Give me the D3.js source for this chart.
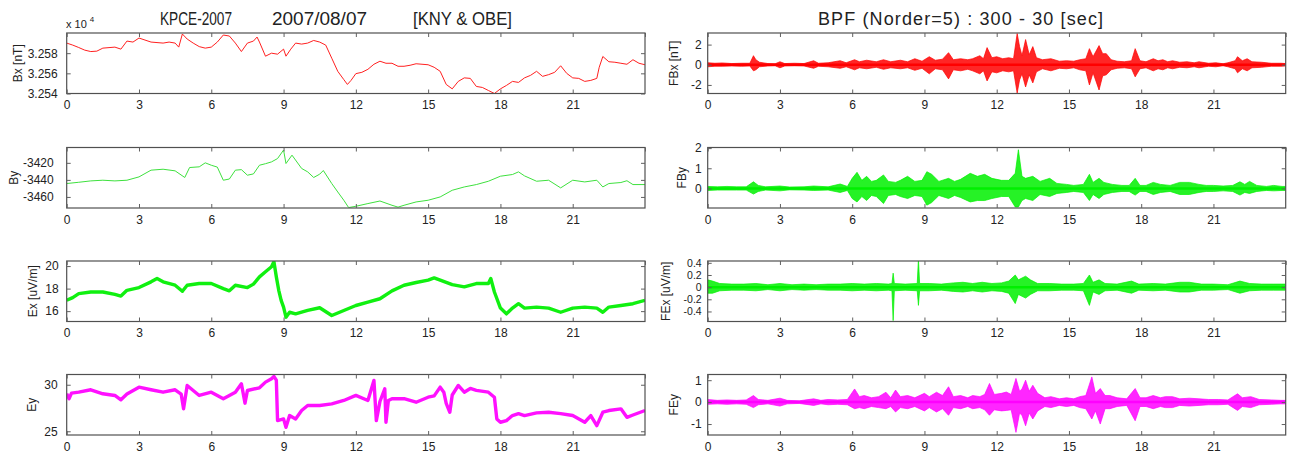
<!DOCTYPE html>
<html><head><meta charset="utf-8">
<script src="https://cdn.jsdelivr.net/npm/d3@7/dist/d3.min.js"></script>
<style>
body{margin:0;background:#fff;}
text{font-family:"Liberation Sans",Arial,sans-serif;fill:#222;}
</style></head>
<body><svg id="c" width="1293" height="457"></svg>
<script>
// ---------- data (hours, value) ----------
const hourTicks = [0,3,6,9,12,15,18,21];
const titleLeft = ["KPCE-2007","2007/08/07","[KNY & OBE]"];
const titleRight = "BPF (Norder=5) : 300 - 30 [sec]";

const bx = [[0,32590],[0.25,32588],[0.5,32585.6],[0.75,32583],[1,32581.6],[1.25,32582],[1.5,32585],[2,32586],[2.25,32584],[2.5,32592],[2.75,32591],[3,32595],[3.25,32593],[3.5,32591],[4,32590],[4.25,32591],[4.5,32590],[4.65,32586],[4.8,32599],[5,32594],[5.25,32590],[5.5,32586.5],[5.75,32585],[6,32586],[6.25,32591],[6.5,32598],[6.75,32597],[7,32590],[7.25,32581.6],[7.5,32590],[7.75,32592],[7.9,32596],[8,32591],[8.25,32577],[8.5,32580],[8.75,32579],[9,32584],[9.1,32577],[9.3,32584],[9.5,32590],[9.75,32589],[10,32590],[10.25,32592.6],[10.5,32591],[10.75,32588],[11,32575],[11.25,32562],[11.5,32553.8],[11.65,32549],[11.8,32553],[12,32559.7],[12.25,32561],[12.5,32564],[12.75,32569],[13,32572],[13.25,32570],[13.5,32570],[13.75,32567],[14,32567],[14.25,32568],[14.5,32569.5],[15,32568.5],[15.25,32566],[15.5,32562],[15.75,32549],[16,32544.6],[16.25,32552],[16.5,32555.5],[16.75,32555],[17,32547],[17.25,32546],[17.5,32543],[17.75,32540],[18,32544.6],[18.25,32548],[18.5,32552],[18.75,32551],[19,32555.5],[19.25,32558],[19.5,32562],[19.75,32557],[20,32558.7],[20.25,32561],[20.5,32567.5],[20.75,32560],[21,32555.5],[21.25,32555],[21.5,32552],[21.75,32553],[22,32555],[22.1,32566],[22.25,32576.7],[22.5,32571.5],[22.75,32571],[23,32570],[23.25,32569],[23.5,32573.5],[23.75,32570],[24,32568.5]];

const by = [[0,-3444.3],[0.5,-3442.8],[1,-3441.2],[1.5,-3440.4],[2,-3441.2],[2.5,-3440.4],[3,-3436.5],[3.5,-3428.6],[4,-3427.5],[4.5,-3429.4],[4.9,-3437.2],[5.1,-3425.5],[5.5,-3424.7],[5.75,-3420],[6,-3422.8],[6.25,-3425],[6.5,-3440.4],[6.75,-3439],[7,-3428.6],[7.25,-3428],[7.5,-3434.5],[7.75,-3433],[8,-3422.8],[8.25,-3421],[8.5,-3418.9],[8.75,-3415],[9,-3405],[9.1,-3420.8],[9.35,-3411],[9.75,-3426.6],[10,-3430.6],[10.25,-3437.2],[10.5,-3433.3],[10.65,-3429],[11,-3444.3],[11.25,-3454.2],[11.5,-3463.9],[11.7,-3472.5],[12,-3471],[12.5,-3467.8],[13,-3464.8],[13.5,-3469.8],[13.75,-3472],[14,-3469.8],[14.5,-3465.9],[15,-3463.9],[15.5,-3460],[16,-3452.2],[16.5,-3448.3],[17,-3445.5],[17.5,-3441.6],[18,-3435.7],[18.5,-3433.7],[18.75,-3430.6],[19,-3435.3],[19.5,-3441.6],[20,-3440.4],[20.5,-3449.4],[21,-3440.4],[21.5,-3442.4],[22,-3440.4],[22.25,-3448.3],[22.5,-3444.3],[23,-3443.1],[23.25,-3441],[23.5,-3445.5],[24,-3445.5]];

const ex = [[0,16.96],[0.25,17.2],[0.5,17.55],[1,17.7],[1.5,17.7],[2,17.49],[2.25,17.34],[2.5,17.85],[3,18.09],[3.5,18.6],[3.75,18.9],[4,18.6],[4.5,18.3],[4.8,17.76],[5,18.3],[5.5,18.45],[6,18.45],[6.5,18.0],[6.75,17.8],[7,18.3],[7.5,18.09],[7.75,18.4],[8,19.04],[8.25,19.49],[8.5,19.94],[8.6,20.39],[8.7,19.04],[8.8,17.85],[8.9,16.96],[9,16.36],[9.1,15.46],[9.25,15.9],[9.5,15.76],[10,16.06],[10.5,16.3],[11,15.61],[11.5,16.06],[12,16.5],[12.5,16.8],[13,17.1],[13.5,17.8],[14,18.3],[14.5,18.54],[15,18.75],[15.25,18.95],[15.5,18.75],[16,18.36],[16.5,18.15],[17,18.45],[17.5,18.45],[17.6,18.9],[17.75,17.7],[18,16.27],[18.25,15.76],[18.5,16.27],[18.75,16.66],[19,16.27],[19.5,16.36],[20,16.27],[20.5,15.9],[21,16.27],[21.5,16.36],[22,16.27],[22.25,15.9],[22.5,16.36],[23,16.5],[23.5,16.66],[24,16.96]];

const ey = [[0,29.03],[0.1,28.5],[0.2,29.1],[0.5,29.2],[1,29.46],[1.5,29.03],[2,28.85],[2.25,28.38],[2.5,29.0],[3,29.74],[3.5,29.46],[4,29.2],[4.5,29.46],[4.75,29.0],[4.85,27.41],[5,29.92],[5.5,28.85],[6,29.2],[6.5,28.49],[7,29.2],[7.25,30.1],[7.4,28.02],[7.5,29.38],[8,29.67],[8.25,30.28],[8.5,30.65],[8.6,30.9],[8.7,30.5],[8.75,26.15],[9,26.33],[9.1,25.43],[9.25,26.69],[9.5,26.33],[9.75,27.23],[10,27.77],[10.5,27.77],[11,27.95],[11.5,28.31],[12,28.85],[12.5,28.31],[12.75,30.46],[12.85,26.15],[13,28.2],[13.2,29.57],[13.25,25.97],[13.35,28.3],[13.5,28.49],[14,28.5],[14.5,28.12],[15,28.66],[15.25,28.8],[15.5,29.74],[15.65,29.2],[15.75,28.0],[15.9,27.04],[16,28.9],[16.25,29.92],[16.5,29.2],[16.75,29.6],[17,29.4],[17.5,29.2],[17.75,28.66],[17.85,26.33],[18,25.97],[18.25,26.15],[18.5,26.69],[18.75,26.9],[19,26.69],[19.5,26.98],[20,27.05],[20.5,26.9],[21,26.69],[21.5,25.97],[21.75,26.69],[22,25.61],[22.25,27.05],[22.5,27.23],[23,27.41],[23.25,26.5],[23.5,26.75],[24,27.23]];

// band-pass filtered: [hour, upper envelope, lower envelope]
const fbx = [[0,0.2,-0.2],[0.3,0.15,-0.15],[0.6,0.18,-0.15],[1.0,0.12,-0.12],[1.4,0.15,-0.15],[1.75,0.15,-0.12],[1.9,0.9,-0.6],[2.0,0.5,-0.5],[2.15,0.25,-0.2],[2.5,0.12,-0.12],[2.8,0.1,-0.1],[3.0,0.3,-0.3],[3.2,0.12,-0.12],[3.6,0.15,-0.1],[4.0,0.12,-0.12],[4.4,0.4,-0.35],[4.6,0.15,-0.15],[5.0,0.2,-0.2],[5.5,0.4,-0.35],[5.75,0.2,-0.2],[6.1,0.5,-0.5],[6.3,0.3,-0.3],[6.6,0.45,-0.4],[7.0,0.3,-0.25],[7.3,0.5,-0.45],[7.6,0.3,-0.3],[8.0,0.45,-0.4],[8.3,0.3,-0.3],[8.6,0.6,-0.55],[8.9,0.35,-0.35],[9.2,0.8,-0.9],[9.45,0.45,-0.4],[9.75,0.55,-0.5],[10.0,1.2,-1.4],[10.2,0.5,-0.5],[10.5,0.6,-0.6],[10.8,0.5,-0.45],[11.0,0.6,-0.6],[11.3,0.9,-0.9],[11.45,0.6,-0.6],[11.6,1.7,-1.6],[11.8,0.7,-0.7],[12.0,0.8,-0.8],[12.25,0.6,-0.6],[12.5,0.7,-0.7],[12.7,0.6,-0.6],[12.85,3.1,-2.8],[12.95,1.8,-1.5],[13.05,0.9,-0.9],[13.2,2.5,-2.2],[13.35,1.0,-1.0],[13.5,1.8,-1.8],[13.65,0.7,-0.7],[13.9,0.5,-0.4],[14.25,0.6,-0.6],[14.6,0.35,-0.35],[14.9,0.4,-0.4],[15.2,0.35,-0.3],[15.45,0.5,-0.5],[15.7,0.6,-0.6],[15.85,1.6,-2.0],[16.0,0.8,-0.8],[16.25,1.9,-2.5],[16.4,1.1,-1.1],[16.55,1.1,-1.0],[16.75,0.5,-0.5],[17.0,0.35,-0.35],[17.3,0.3,-0.3],[17.6,0.4,-0.4],[17.75,1.6,-1.2],[17.95,0.4,-0.4],[18.2,0.3,-0.3],[18.5,0.6,-0.6],[18.7,0.4,-0.4],[18.9,0.5,-0.5],[19.1,0.3,-0.3],[19.3,0.4,-0.4],[19.6,0.25,-0.25],[19.9,0.3,-0.3],[20.2,0.2,-0.2],[20.4,0.3,-0.3],[20.8,0.15,-0.15],[21.1,0.2,-0.2],[21.4,0.1,-0.1],[21.6,0.2,-0.2],[21.9,0.4,-0.4],[22.0,0.8,-0.8],[22.2,0.4,-0.4],[22.4,0.6,-0.6],[22.6,0.3,-0.3],[23.0,0.25,-0.25],[23.4,0.15,-0.15],[23.8,0.15,-0.15],[24,0.12,-0.12]];

const fby = [[0,0.1,-0.1],[0.4,0.08,-0.08],[0.8,0.1,-0.08],[1.2,0.08,-0.08],[1.6,0.08,-0.08],[1.9,0.33,-0.28],[2.1,0.15,-0.15],[2.4,0.08,-0.08],[3.0,0.12,-0.12],[3.4,0.07,-0.07],[4.0,0.08,-0.08],[4.4,0.12,-0.1],[5.0,0.08,-0.08],[5.5,0.22,-0.2],[5.8,0.1,-0.1],[6.0,0.5,-0.5],[6.2,0.8,-0.67],[6.4,0.4,-0.4],[6.6,0.6,-0.6],[6.8,0.35,-0.35],[7.0,0.4,-0.4],[7.3,0.67,-0.75],[7.5,0.35,-0.35],[7.8,0.3,-0.3],[8.0,0.4,-0.4],[8.3,0.6,-0.5],[8.6,0.35,-0.35],[8.9,0.4,-0.4],[9.1,0.83,-0.83],[9.3,0.7,-0.7],[9.6,0.35,-0.35],[10.0,0.5,-0.5],[10.25,0.35,-0.35],[10.5,0.45,-0.45],[10.9,0.75,-0.67],[11.2,0.6,-0.6],[11.5,0.7,-0.6],[11.8,0.5,-0.5],[12.2,0.4,-0.4],[12.5,0.4,-0.4],[12.77,0.75,-0.92],[12.9,1.92,-0.92],[13.05,0.6,-0.6],[13.2,0.5,-0.5],[13.5,0.6,-0.6],[13.8,0.35,-0.3],[14.2,0.5,-0.4],[14.5,0.25,-0.25],[14.9,0.2,-0.2],[15.2,0.15,-0.15],[15.6,0.2,-0.2],[15.85,0.7,-0.6],[16.0,0.3,-0.3],[16.25,0.5,-0.5],[16.45,0.3,-0.3],[16.8,0.2,-0.2],[17.2,0.15,-0.15],[17.5,0.15,-0.15],[17.75,0.5,-0.33],[17.95,0.15,-0.15],[18.2,0.15,-0.15],[18.5,0.3,-0.3],[18.8,0.2,-0.2],[19.2,0.15,-0.15],[19.6,0.3,-0.3],[20.0,0.3,-0.3],[20.4,0.2,-0.2],[20.7,0.15,-0.15],[21.0,0.15,-0.15],[21.4,0.12,-0.12],[21.8,0.15,-0.15],[22.1,0.33,-0.33],[22.3,0.2,-0.2],[22.5,0.35,-0.25],[22.8,0.15,-0.15],[23.2,0.1,-0.1],[23.5,0.15,-0.12],[23.85,0.1,-0.1],[24,0.1,-0.1]];

const fex = [[0,0.12,-0.1],[0.2,0.1,-0.1],[0.5,0.06,-0.06],[1.0,0.05,-0.05],[1.5,0.05,-0.05],[2.0,0.06,-0.06],[2.5,0.04,-0.04],[3.0,0.06,-0.06],[3.5,0.04,-0.04],[4.0,0.05,-0.05],[4.5,0.04,-0.04],[5.0,0.05,-0.05],[5.5,0.05,-0.05],[6.0,0.06,-0.06],[6.5,0.05,-0.05],[7.0,0.06,-0.06],[7.5,0.05,-0.05],[7.65,0.06,-0.06],[7.7,0.23,-0.55],[7.75,0.06,-0.06],[8.2,0.05,-0.05],[8.7,0.06,-0.06],[8.75,0.46,-0.3],[8.8,0.06,-0.06],[9.2,0.06,-0.06],[9.7,0.05,-0.05],[10.2,0.07,-0.07],[10.6,0.08,-0.08],[11.0,0.06,-0.06],[11.4,0.08,-0.08],[11.8,0.06,-0.06],[12.2,0.07,-0.07],[12.5,0.1,-0.1],[12.77,0.2,-0.27],[12.9,0.12,-0.12],[13.2,0.18,-0.18],[13.4,0.12,-0.12],[13.7,0.06,-0.06],[14.2,0.06,-0.06],[14.7,0.05,-0.05],[15.2,0.05,-0.05],[15.6,0.06,-0.06],[15.85,0.2,-0.3],[16.0,0.08,-0.08],[16.25,0.12,-0.12],[16.5,0.06,-0.06],[17.0,0.05,-0.05],[17.6,0.1,-0.1],[17.9,0.05,-0.05],[18.5,0.06,-0.06],[19.0,0.05,-0.05],[19.6,0.08,-0.08],[20.0,0.08,-0.08],[20.5,0.05,-0.05],[21.0,0.05,-0.05],[21.6,0.04,-0.04],[22.1,0.1,-0.1],[22.5,0.06,-0.06],[23.0,0.05,-0.05],[23.5,0.05,-0.05],[24,0.05,-0.05]];

const fey = [[0,0.12,-0.1],[0.4,0.08,-0.08],[0.8,0.1,-0.1],[1.2,0.08,-0.08],[1.6,0.1,-0.1],[1.9,0.3,-0.25],[2.1,0.12,-0.12],[2.5,0.08,-0.08],[3.0,0.18,-0.18],[3.3,0.08,-0.08],[3.8,0.06,-0.06],[4.4,0.15,-0.15],[4.7,0.08,-0.08],[5.0,0.12,-0.12],[5.4,0.1,-0.1],[5.8,0.12,-0.12],[6.1,0.6,-0.3],[6.3,0.25,-0.25],[6.5,0.3,-0.3],[6.8,0.2,-0.2],[7.1,0.25,-0.25],[7.4,0.45,-0.3],[7.6,0.2,-0.2],[7.8,0.55,-0.45],[8.0,0.25,-0.25],[8.3,0.3,-0.3],[8.6,0.2,-0.2],[9.0,0.4,-0.4],[9.2,0.25,-0.25],[9.5,0.45,-0.45],[9.75,0.3,-0.3],[10.0,0.7,-0.6],[10.2,0.25,-0.25],[10.5,0.3,-0.3],[10.8,0.2,-0.2],[11.0,0.3,-0.3],[11.3,0.25,-0.25],[11.5,0.35,-0.35],[11.7,0.85,-0.6],[11.9,0.35,-0.35],[12.2,0.4,-0.4],[12.4,0.46,-0.38],[12.6,0.35,-0.35],[12.8,1.08,-1.38],[12.95,0.5,-0.5],[13.05,0.6,-0.6],[13.2,1.0,-1.08],[13.35,0.5,-0.5],[13.5,0.77,-0.77],[13.7,0.4,-0.4],[14.0,0.2,-0.2],[14.25,0.25,-0.25],[14.6,0.15,-0.15],[14.9,0.2,-0.2],[15.2,0.15,-0.15],[15.45,0.25,-0.25],[15.7,0.3,-0.3],[15.95,1.15,-0.77],[16.1,0.4,-0.4],[16.3,0.62,-1.0],[16.5,0.3,-0.3],[16.7,0.3,-0.3],[17.0,0.2,-0.2],[17.4,0.15,-0.15],[17.75,0.62,-0.85],[17.95,0.2,-0.2],[18.2,0.2,-0.2],[18.5,0.3,-0.3],[18.8,0.2,-0.2],[19.0,0.25,-0.25],[19.3,0.25,-0.25],[19.6,0.15,-0.15],[20.0,0.18,-0.18],[20.4,0.15,-0.15],[20.8,0.12,-0.12],[21.2,0.12,-0.12],[21.6,0.1,-0.1],[22.0,0.38,-0.38],[22.2,0.2,-0.2],[22.55,0.25,-0.25],[22.9,0.12,-0.12],[23.4,0.1,-0.1],[23.8,0.08,-0.08],[24,0.08,-0.08]];

// y-axis tick values
const bxTicks=[32540,32560,32580], byTicks=[-3460,-3440,-3420], exTicks=[16,18,20], eyTicks=[25,30];
const fbxTicks=[-2,0,2], fbyTicks=[0,1,2], fexTicks=[-0.4,-0.2,0,0.2,0.4], feyTicks=[-1,0,1];

// ---------- layout ----------
const svg = d3.select("#c");
const cols = [[66.7,645],[707.7,1285.7]];
const rowTops = [33,147.5,261,374.5];
const PH = 60.5;
const fmtG = d => String(d);

const panels = [
 {data:bx, type:"line", col:0,row:0, dom:[32540,32600], ticks:bxTicks, fmt:d=>(d/1e4).toFixed(3), label:"Bx [nT]", lx:18, color:"#ff2020", sw:1, pad:9, fs:12},
 {data:by, type:"line", col:0,row:1, dom:[-3473,-3402], ticks:byTicks, fmt:fmtG, label:"By", lx:14, color:"#3ee03e", sw:1, pad:13, fs:12},
 {data:ex, type:"line", col:0,row:2, dom:[15.08,20.45], ticks:exTicks, fmt:fmtG, label:"Ex [uV/m]", lx:33, color:"#10f010", sw:3.4, pad:8, fs:12},
 {data:ey, type:"line", col:0,row:3, dom:[24.6,31.1], ticks:eyTicks, fmt:fmtG, label:"Ey", lx:32, color:"#ff10ff", sw:3.4, pad:9, fs:12},
 {data:fbx, type:"band", col:1,row:0, dom:[-2.85,3.15], ticks:fbxTicks, fmt:fmtG, label:"FBx [nT]", lx:674, color:"#ff0000", pad:6, fs:12},
 {data:fby, type:"band", col:1,row:1, dom:[-0.97,2.03], ticks:fbyTicks, fmt:fmtG, label:"FBy", lx:682, color:"#00f000", pad:6, fs:12},
 {data:fex, type:"band", col:1,row:2, dom:[-0.565,0.43], ticks:fexTicks, fmt:fmtG, label:"FEx [uV/m]", lx:666, color:"#00f000", pad:6, fs:10.5},
 {data:fey, type:"band", col:1,row:3, dom:[-1.5,1.26], ticks:feyTicks, fmt:fmtG, label:"FEy", lx:674, color:"#ff00ff", pad:6, fs:12}
];

panels.forEach((p,i) => {
  const [x0,x1] = cols[p.col];
  const top = rowTops[p.row], bot = top + PH;
  const x = d3.scaleLinear().domain([0,24]).range([x0,x1]);
  const y = d3.scaleLinear().domain(p.dom).range([bot,top]);
  const g = svg.append("g");

  const cid = "clip"+i;
  svg.append("clipPath").attr("id",cid).append("rect")
     .attr("x",x0).attr("y",top).attr("width",x1-x0).attr("height",PH);

  const plot = g.append("g").attr("clip-path",`url(#${cid})`);
  if (p.type === "line") {
    plot.append("path").datum(p.data)
      .attr("d", d3.line().x(d=>x(d[0])).y(d=>y(d[1])))
      .attr("fill","none").attr("stroke",p.color).attr("stroke-width",p.sw)
      .attr("stroke-linejoin","round");
  } else {
    plot.append("path").datum(p.data)
      .attr("d", d3.area().x(d=>x(d[0])).y0(d=>y(d[2])).y1(d=>y(d[1])))
      .attr("fill",p.color).attr("fill-opacity",0.85).attr("stroke",p.color).attr("stroke-width",0.7).attr("stroke-linejoin","round");
    plot.append("path").datum(p.data)
      .attr("d", d3.line().x(d=>x(d[0])).y(()=>y(0)))
      .attr("stroke",p.color).attr("stroke-width",2.5);
  }

  // frame
  g.append("rect").attr("x",x0).attr("y",top).attr("width",x1-x0).attr("height",PH)
    .attr("fill","none").attr("stroke","#505050").attr("stroke-width",1.2);

  const axStyle = sel => { sel.select(".domain").remove(); sel.selectAll(".tick line").attr("stroke","#606060"); };
  g.append("g").attr("transform",`translate(0,${bot})`)
    .call(d3.axisBottom(x).tickValues(hourTicks).tickSize(-4).tickPadding(7).tickFormat(fmtG))
    .call(axStyle)
    .selectAll("text").attr("font-size",12).attr("fill","#222").style("font-family",'"Liberation Sans",Arial,sans-serif');
  g.append("g").attr("transform",`translate(0,${top})`)
    .call(d3.axisTop(x).tickValues(hourTicks.concat([24])).tickSize(-4).tickFormat(""))
    .call(axStyle);
  g.append("g").attr("transform",`translate(${x0},0)`)
    .call(d3.axisLeft(y).tickValues(p.ticks).tickSize(-4).tickPadding(p.pad).tickFormat(p.fmt))
    .call(axStyle)
    .selectAll("text").attr("font-size",p.fs).attr("fill","#222").style("font-family",'"Liberation Sans",Arial,sans-serif');
  g.append("g").attr("transform",`translate(${x1},0)`)
    .call(d3.axisRight(y).tickValues(p.ticks).tickSize(-4).tickFormat(""))
    .call(axStyle);

  g.append("text").attr("transform",`translate(${p.lx},${top+PH/2}) rotate(-90)`)
    .attr("text-anchor","middle").attr("dy","0.35em").attr("font-size",12).text(p.label);
});

// exponent label
const ex10 = svg.append("text").attr("x",66).attr("y",28).attr("font-size",11);
ex10.append("tspan").text("x 10");
ex10.append("tspan").attr("dx",3).attr("dy",-6).attr("font-size",8).text("4");

// titles
const tl = [[160,72],[272,95],[413,99]];
titleLeft.forEach((t,i) => {
  svg.append("text").attr("x",tl[i][0]).attr("y",25).attr("font-size",18)
    .attr("textLength",tl[i][1]).attr("lengthAdjust","spacingAndGlyphs").text(t);
});
svg.append("text").attr("x",818).attr("y",25).attr("font-size",18)
  .attr("textLength",285).attr("lengthAdjust","spacing").text(titleRight);
</script></body></html>
